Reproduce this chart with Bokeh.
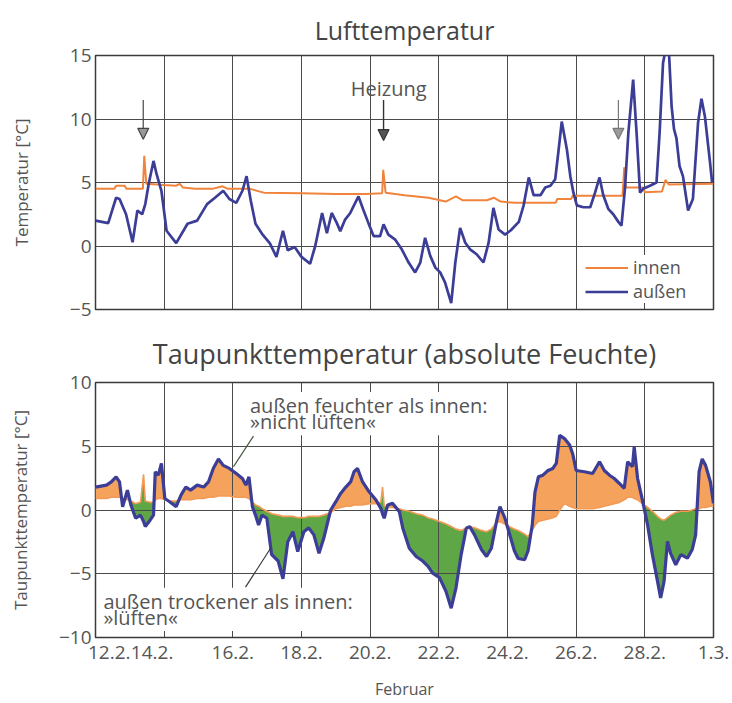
import numpy as np
from bokeh.plotting import figure
from bokeh.layouts import column
from bokeh.models import (Range1d, FixedTicker, Legend, LegendItem, Label, Arrow,
                          NormalHead)
from bokeh.embed import file_html
from bokeh.resources import INLINE

# ---------------- data (x = days after 12.2. 00:00) ----------------
day_ticks = [0, 2, 4, 6, 8, 10, 12, 14, 16, 18]
day_labels = ["12.2.", "14.2.", "16.2.", "18.2.", "20.2.", "22.2.", "24.2.", "26.2.", "28.2.", "1.3."]

# Lufttemperatur außen
air_t_out = [0.0, 0.37, 0.6, 0.7, 0.89, 1.08, 1.22, 1.36, 1.45, 1.55, 1.69, 1.78, 1.92, 2.07, 2.35,
             2.68, 2.96, 3.25, 3.48, 3.72, 3.9, 4.1, 4.28, 4.4, 4.52, 4.66, 4.85, 5.08, 5.27, 5.46,
             5.6, 5.8, 6.0, 6.25, 6.4, 6.6, 6.74, 6.88, 7.03, 7.13, 7.27, 7.42, 7.51, 7.66, 7.8,
             7.95, 8.1, 8.29, 8.39, 8.53, 8.73, 8.92, 9.12, 9.31, 9.46, 9.6, 9.75, 9.9, 10.04,
             10.18, 10.36, 10.48, 10.62, 10.77, 10.91, 11.1, 11.3, 11.45, 11.59, 11.74, 11.93,
             12.09, 12.33, 12.47, 12.62, 12.76, 12.96, 13.1, 13.25, 13.39, 13.49, 13.58, 13.73,
             13.83, 13.92, 14.02, 14.21, 14.41, 14.55, 14.68, 14.79, 14.94, 15.08, 15.23, 15.32,
             15.42, 15.52, 15.66, 15.76, 15.86, 15.95, 16.15, 16.34, 16.43, 16.53, 16.6, 16.7,
             16.78, 16.85, 16.92, 17.01, 17.11, 17.26, 17.4, 17.55, 17.65, 17.75, 17.89, 17.96]
air_out = [2.0, 1.8, 3.8, 3.7, 2.5, 0.3, 2.8, 2.5, 3.3, 4.9, 6.7, 5.65, 4.35, 1.2, 0.23,
           1.75, 2.0, 3.3, 3.8, 4.35, 3.7, 3.4, 4.35, 5.5, 3.6, 1.75, 0.96, 0.2, -0.86, 1.2,
           -0.34, -0.08, -0.86, -1.4, 0.0, 2.6, 1.0, 2.6, 1.8, 1.17, 2.08, 2.6, 3.1, 3.9, 2.86,
           1.8, 0.78, 0.78, 1.7, 0.9, 0.5, -0.26, -1.3, -2.08, -1.3, 0.65, -0.78, -1.7, -2.08,
           -2.86, -4.5, -1.3, 1.43, 0.26, -0.26, -0.65, -1.3, 0.26, 3.0, 1.3, 0.9,
           1.22, 1.9, 3.2, 5.4, 4.0, 4.0, 4.6, 4.74, 5.26, 7.6, 9.8, 7.6,
           5.5, 4.2, 3.2, 3.05, 3.05, 4.2, 5.4, 4.0, 2.9, 2.5, 1.9, 1.6,
           4.5, 8.9, 13.1, 8.9, 4.2, 4.5, 4.74, 5.0, 8.9, 14.4, 15.4, 15.4,
           11.0, 9.2, 8.5, 6.3, 5.5, 2.8, 3.7, 9.7, 11.6, 10.2, 6.8, 5.0]

# Lufttemperatur innen
air_t_in = [0.0, 0.55, 0.6, 0.85, 0.9, 1.38, 1.42, 1.48, 2.0, 2.35, 2.45, 2.55, 2.9, 3.4, 3.7,
            3.85, 4.5, 4.9, 6.0, 7.0, 7.9, 8.35, 8.38, 8.45, 9.0, 9.7, 10.2, 10.5, 10.7, 11.4,
            11.6, 11.8, 12.2, 13.4, 13.45, 13.85, 13.9, 15.35, 15.4, 15.45, 15.95, 16.0, 16.5,
            16.6, 16.7, 18.0]
air_in = [4.5, 4.5, 4.75, 4.75, 4.5, 4.5, 7.1, 4.9, 4.8, 4.75, 4.9, 4.6, 4.5, 4.5, 4.7,
          4.5, 4.5, 4.2, 4.15, 4.1, 4.1, 4.15, 6.0, 4.2, 4.0, 3.8, 3.5, 3.9, 3.6, 3.6,
          3.8, 3.5, 3.4, 3.4, 3.7, 3.7, 3.95, 3.95, 6.2, 4.6, 4.6, 4.24, 4.3,
          5.2, 4.84, 4.9]

# Taupunkttemperatur außen / innen (same times)
dew_t = [0.0, 0.32, 0.46, 0.6, 0.7, 0.79, 0.93, 1.03, 1.17, 1.31, 1.4, 1.45, 1.59, 1.69, 1.74,
         1.83, 1.92, 2.02, 2.16, 2.35, 2.49, 2.63, 2.77, 2.96, 3.15, 3.29, 3.43, 3.58, 3.72, 3.9,
         4.1, 4.28, 4.38, 4.47, 4.57, 4.66, 4.75, 4.85, 4.99, 5.13, 5.32, 5.46, 5.6, 5.75, 5.89,
         6.07, 6.21, 6.36, 6.51, 6.65, 6.85, 7.0, 7.14, 7.29, 7.43, 7.53, 7.63, 7.78, 7.97, 8.17,
         8.31, 8.36, 8.41, 8.51, 8.65, 8.85, 8.95, 9.14, 9.34, 9.53, 9.68, 9.82, 10.02, 10.21,
         10.36, 10.5, 10.65, 10.8, 10.9, 11.04, 11.24, 11.39, 11.53, 11.68, 11.78, 11.92, 12.05,
         12.2, 12.31, 12.5, 12.6, 12.72, 12.8, 12.9, 13.03, 13.18, 13.32, 13.42, 13.52, 13.66,
         13.81, 13.9, 14.0, 14.24, 14.48, 14.68, 14.82, 14.97, 15.11, 15.26, 15.4, 15.5, 15.64,
         15.69, 15.79, 15.93, 16.08, 16.22, 16.37, 16.46, 16.56, 16.66, 16.75, 16.9, 17.05,
         17.24, 17.38, 17.48, 17.58, 17.67, 17.77, 17.91, 18.0]
dew_out = [1.8, 1.95, 2.2, 2.6, 2.2, 0.26, 1.56, 0.4, -0.65, -0.4, -0.9, -1.3, -0.8, -0.4, 3.0,
           2.73, 3.65, 0.9, 0.65, 0.26, 1.17, 1.8, 1.56, 1.95, 1.8, 2.2, 3.26, 4.0, 3.5, 3.26,
           2.86, 2.47, 1.95, 2.6, 0.26, -0.4, -1.17, -0.4, -0.65, -3.5, -4.0, -5.4, -2.5, -1.7, -3.26,
           -1.7, -1.4, -1.95, -3.4, -2.2, 0.0, 0.65, 1.3, 1.8, 2.2, 3.0, 3.26, 2.2, 1.43, 0.78,
           0.13, -0.3, -0.65, 0.4, 0.52, -0.13, -1.43, -3.0, -3.65, -4.0, -4.4, -4.95, -5.3, -6.4,
           -7.7, -6.1, -3.5, -1.43, -1.3, -1.95, -3.1, -3.65, -3.0, -0.9, 0.26, -0.6, -1.8,
           -3.2, -3.8, -3.9, -3.2, -1.2, 1.4, 2.6, 2.73, 3.1, 3.26, 3.65, 5.86, 5.6,
           5.1, 4.4, 3.1, 3.0, 2.86, 3.78, 3.1, 2.73, 2.47, 2.08, 1.7, 3.78, 3.4,
           4.95, 2.47, 0.78, -1.17, -3.5, -5.6, -6.9, -5.6, -2.47, -3.4, -4.3, -3.5,
           -3.78, -3.1, -1.95, 3.0, 4.0, 3.5, 2.2, 0.52]
dew_in = [0.9, 0.9, 1.0, 1.0, 1.0, 0.9, 0.8, 0.7, 0.5, 0.6, 2.8, 0.7, 0.6, 0.6, 0.8,
          0.9, 0.9, 0.8, 0.7, 0.7, 0.8, 0.8, 0.8, 0.9, 0.9, 1.0, 1.0, 1.1, 1.1, 1.1,
          1.0, 1.0, 1.0, 0.9, 0.6, 0.4, 0.3, 0.1, -0.1, -0.3, -0.4, -0.5, -0.5, -0.5, -0.6,
          -0.6, -0.5, -0.5, -0.5, -0.4, -0.2, 0.1, 0.2, 0.3, 0.3, 0.4, 0.4, 0.4, 0.5, 0.5,
          0.6, 1.8, 0.3, 0.2, 0.2, 0.1, 0.0, -0.1, -0.3, -0.4, -0.6, -0.7, -0.9, -1.1,
          -1.3, -1.5, -1.6, -1.4, -1.3, -1.4, -1.6, -1.7, -1.5, -1.0, -0.9, -1.1, -1.3,
          -1.5, -1.6, -1.9, -2.1, -1.6, -1.2, -0.9, -0.8, -0.7, -0.6, -0.5, 0.0, 0.5,
          0.3, 0.2, 0.1, 0.1, 0.1, 0.2, 0.3, 0.4, 0.5, 0.6, 0.8, 1.0, 1.0,
          0.9, 0.8, 0.5, 0.2, -0.1, -0.5, -0.7, -0.8, -0.6, -0.4, -0.2, -0.1,
          -0.1, 0.0, 0.1, 0.1, 0.2, 0.2, 0.3, 0.3]

vent_days = [1.39, 15.23]      # Lüftungs-Pfeile
heat_day = 8.39                # Heizung

# ---------------- styling ----------------
FONT = "Open Sans"
TXT = "#555555"
GRID = "#4a4a4a"
C_IN = "#f0843c"
C_OUT = "#3b3d96"
C_FILL_O = "#f4a25c"
C_FILL_G = "#5ea646"

FW, LEFT, RIGHT = 618, 95, 17


def style(p, yticks, overrides, ylabel, label_standoff, title_size, title_standoff):
    p.title.align = "center"
    p.title.text_font = FONT
    p.title.text_font_size = title_size
    p.title.text_font_style = "normal"
    p.title.text_color = "#444444"
    p.title.standoff = title_standoff
    p.outline_line_color = "#3a3a3a"
    p.outline_line_width = 1.5
    p.xgrid.ticker = FixedTicker(ticks=day_ticks)
    p.ygrid.ticker = FixedTicker(ticks=yticks)
    for g in (p.xgrid, p.ygrid):
        g.grid_line_color = GRID
        g.grid_line_width = 1
        g.grid_line_alpha = 1
    ax = p.yaxis[0]
    ax.ticker = FixedTicker(ticks=yticks)
    ax.major_label_overrides = overrides
    ax.axis_line_color = None
    ax.major_tick_out = 0
    ax.major_tick_in = 0
    ax.minor_tick_out = 0
    ax.minor_tick_in = 0
    ax.major_label_standoff = 4
    ax.major_label_text_font = FONT
    ax.major_label_text_font_size = "19px"
    ax.major_label_text_color = TXT
    ax.axis_label = ylabel
    ax.axis_label_text_font = FONT
    ax.axis_label_text_font_size = "17px"
    ax.axis_label_text_font_style = "normal"
    ax.axis_label_text_color = TXT
    ax.axis_label_standoff = label_standoff


# ---------------- top: Lufttemperatur ----------------
p1 = figure(frame_width=FW, frame_height=254, min_border_left=LEFT, min_border_right=RIGHT,
            min_border_top=55, min_border_bottom=13, x_range=Range1d(0, 18),
            y_range=Range1d(-5, 15), title="Lufttemperatur", output_backend="svg",
            toolbar_location=None)
style(p1, [-5, 0, 5, 10, 15], {-5: "\u22125"}, "Temperatur [°C]", 34, "25px", 17)
p1.xaxis.visible = False

r_in = p1.line(air_t_in, air_in, line_color=C_IN, line_width=2)
r_out = p1.line(air_t_out, air_out, line_color=C_OUT, line_width=2.7)

p1.add_layout(Legend(items=[LegendItem(label="innen", renderers=[r_in]),
                            LegendItem(label="au\u00dfen", renderers=[r_out])],
                     location=(490, 6), padding=0, spacing=0, margin=0, glyph_width=43,
                     glyph_height=19, label_height=19, label_standoff=5,
                     label_text_font=FONT, label_text_font_size="18px",
                     label_text_color=TXT, border_line_color=None,
                     background_fill_color="white", background_fill_alpha=1))

for d, col in zip(vent_days, ["#444444", "#777777"]):
    p1.add_layout(Arrow(end=NormalHead(size=11, fill_color="#9a9a9a", line_color=col, line_width=1.2),
                        x_start=d, y_start=11.5, x_end=d, y_end=8.4,
                        line_color=col, line_width=1.2))
p1.add_layout(Arrow(end=NormalHead(size=11, fill_color="#555555", line_color="#333333", line_width=1.2),
                    x_start=heat_day, y_start=11.5, x_end=heat_day, y_end=8.3,
                    line_color="#333333", line_width=1.4))
p1.add_layout(Label(x=heat_day + 0.15, y=12.4, text="Heizung", text_align="center",
                    text_baseline="middle", text_font=FONT, text_font_size="20px",
                    text_color=TXT))

# ---------------- bottom: Taupunkttemperatur ----------------
p2 = figure(frame_width=FW, frame_height=255, min_border_left=LEFT, min_border_right=RIGHT,
            min_border_top=60, min_border_bottom=60, x_range=Range1d(0, 18),
            y_range=Range1d(-10, 10), title="Taupunkttemperatur (absolute Feuchte)",
            output_backend="svg", toolbar_location=None)
style(p2, [-10, -5, 0, 5, 10], {-10: "\u221210", -5: "\u22125"}, "Taupunkttemperatur [°C]", 24,
      "27px", 21)

# fill between außen and innen, with exact crossing points
xs, ya, yi = [dew_t[0]], [dew_out[0]], [dew_in[0]]
for k in range(1, len(dew_t)):
    d0 = dew_out[k - 1] - dew_in[k - 1]
    d1 = dew_out[k] - dew_in[k]
    if d0 * d1 < 0:
        f = d0 / (d0 - d1)
        xc = dew_t[k - 1] + f * (dew_t[k] - dew_t[k - 1])
        yc = dew_in[k - 1] + f * (dew_in[k] - dew_in[k - 1])
        xs.append(xc); ya.append(yc); yi.append(yc)
    xs.append(dew_t[k]); ya.append(dew_out[k]); yi.append(dew_in[k])
xs, ya, yi = np.array(xs), np.array(ya), np.array(yi)

ro = p2.varea(x=xs, y1=yi, y2=np.maximum(ya, yi), fill_color=C_FILL_O)
rg = p2.varea(x=xs, y1=np.minimum(ya, yi), y2=yi, fill_color=C_FILL_G)
ro.level = "image"
rg.level = "image"
p2.line(dew_t, dew_in, line_color="#f39a55", line_width=1.6)
p2.line(dew_t, dew_out, line_color=C_OUT, line_width=3.2)

xa = p2.xaxis[0]
label_pos = list(day_ticks)
label_pos[0] = 0.4
label_pos[1] = 1.65
xa.ticker = FixedTicker(ticks=label_pos)
xa.major_label_overrides = {pos: lab for pos, lab in zip(label_pos, day_labels)}
xa.axis_line_color = None
xa.major_tick_out = 0
xa.major_tick_in = 0
xa.minor_tick_out = 0
xa.minor_tick_in = 0
xa.major_label_standoff = 8
xa.major_label_text_font = FONT
xa.major_label_text_font_size = "19px"
xa.major_label_text_color = TXT
xa.axis_label = "Februar"
xa.axis_label_text_font = FONT
xa.axis_label_text_font_size = "16px"
xa.axis_label_text_font_style = "normal"
xa.axis_label_text_color = TXT
xa.axis_label_standoff = 16

ann = dict(text_font=FONT, text_font_size="20px", text_color=TXT, text_baseline="top",
           text_line_height=0.6, background_fill_color="white", background_fill_alpha=1)
p2.add_layout(Label(x=4.5, y=9.25, text="au\u00dfen feuchter als innen:\n \u00bbnicht l\u00fcften\u00ab",
                    **ann))
p2.add_layout(Label(x=0.23, y=-6.1, text="au\u00dfen trockener als innen:\n\u00bbl\u00fcften\u00ab",
                    **ann))
p2.add_layout(Arrow(end=None, x_start=4.6, y_start=5.8, x_end=4.02, y_end=3.4,
                    line_color="#4a5a40", line_width=1.2))
p2.add_layout(Arrow(end=None, x_start=4.37, y_start=-6.05, x_end=5.1, y_end=-3.0,
                    line_color="#3a3a3a", line_width=1.2))

layout = column(p1, p2, spacing=0)
open("out.html", "w").write(file_html(layout, INLINE))
